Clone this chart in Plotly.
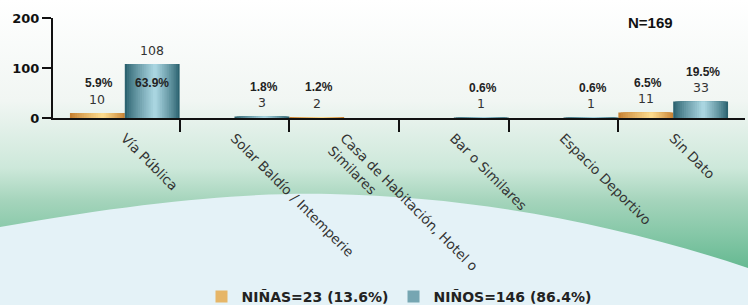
import base64
import plotly.graph_objects as go

# ---------------- data ----------------
categories = [
    "Vía Pública",
    "Solar Baldío / Intemperie",
    "Casa de Habitación, Hotel o<br>Similares",
    "Bar o Similares",
    "Espacio Deportivo",
    "Sin Dato",
]
ninas = [10, 0, 2, 0, 0, 11]
ninos = [108, 3, 0, 1, 1, 33]
pct_ninas = ["5.9%", None, "1.2%", None, None, "6.5%"]
pct_ninos = ["63.9%", "1.8%", None, "0.6%", "0.6%", "19.5%"]
legend_ninas = "NIÑAS=23 (13.6%)"
legend_ninos = "NIÑOS=146 (86.4%)"
total_label = "N=169"
y_ticks = [0, 100, 200]

# ---------------- geometry / style ----------------
W, H = 748, 305
ML, MR, MT, MB = 53, 3, 18, 187
PW, PH = W - ML - MR, H - MT - MB
pad = 17 / 110.0
x_range = [-0.5 - pad, len(categories) - 0.5 + pad]


def h2r(h):
    h = h.lstrip("#")
    return tuple(int(h[i:i + 2], 16) for i in (0, 2, 4))


def mix(a, b, t):
    a, b = h2r(a), h2r(b)
    return "rgb(%d,%d,%d)" % tuple(round(a[i] + (b[i] - a[i]) * t) for i in range(3))


fig = go.Figure()


def add_cylinder(values, bar_left, edge, peak, peak_pos, name, n=14):
    bw = 0.5
    for k in range(n):
        f = k / n
        L = peak_pos * f
        R = 1 - (1 - peak_pos) * f
        t = (k / (n - 1)) ** 0.85
        fig.add_trace(go.Bar(
            x=list(range(len(values))), y=values,
            width=bw * (R - L), offset=bar_left + bw * L,
            marker=dict(color=mix(edge, peak, t), line=dict(width=0)),
            name=name, legendgroup=name,
            showlegend=(k == n // 2), hoverinfo="skip",
        ))


add_cylinder(ninas, -0.5, "#c78233", "#fbda8c", 0.6, legend_ninas)
add_cylinder(ninos, 0.0, "#2c6370", "#a9d5e0", 0.55, legend_ninos)

# value and percentage labels
ann = []
cnt_font = dict(family="DejaVu Sans", size=12.5, color="#333333")
pct_font = dict(family="Liberation Sans", size=12, color="#222222", weight="bold")
for vals, pcts, off in ((ninas, pct_ninas, -0.25), (ninos, pct_ninos, 0.25)):
    for i, (v, p) in enumerate(zip(vals, pcts)):
        if v > 0:
            ann.append(dict(x=i + off, y=v, xref="x", yref="y", text=str(v),
                            showarrow=False, yshift=14, font=cnt_font,
                            xanchor="center", yanchor="middle"))
        if p:
            inside = v > 80
            ann.append(dict(x=i + off, y=v, xref="x", yref="y", text=p,
                            showarrow=False, yshift=-19 if inside else 30,
                            xshift=0 if inside else 2, font=pct_font,
                            xanchor="center", yanchor="middle"))

ann.append(dict(x=(650 - ML) / PW, y=(PH + MT - 22.5) / PH,
                xref="paper", yref="paper", text=total_label, showarrow=False,
                xanchor="center", yanchor="middle",
                font=dict(family="Liberation Sans", size=15, color="#111111", weight="bold")))

# background
svg = f'''<svg xmlns="http://www.w3.org/2000/svg" width="{W}" height="{H}" viewBox="0 0 {W} {H}" preserveAspectRatio="none">
<defs>
<linearGradient id="g" x1="0" y1="0" x2="0" y2="1">
<stop offset="0" stop-color="#ffffff"/>
<stop offset="0.33" stop-color="#f1f6f3"/>
<stop offset="0.55" stop-color="#cde8da"/>
<stop offset="0.66" stop-color="#a4d4bb"/>
<stop offset="0.78" stop-color="#82c6a5"/>
<stop offset="0.9" stop-color="#5fb68d"/>
<stop offset="1" stop-color="#52b085"/>
</linearGradient>
</defs>
<rect width="{W}" height="{H}" fill="url(#g)"/>
<path d="M0,227 C150,200 260,192 330,194 C480,197 620,225 748,268 L748,305 L0,305 Z" fill="#e4f2f7"/>
</svg>'''
src = "data:image/svg+xml;base64," + base64.b64encode(svg.encode()).decode()

fig.update_layout(
    width=W, height=H,
    margin=dict(l=ML, r=MR, t=MT, b=MB, autoexpand=False),
    barmode="overlay",
    paper_bgcolor="white",
    plot_bgcolor="rgba(0,0,0,0)",
    hovermode=False,
    annotations=ann,
    images=[dict(source=src, xref="paper", yref="paper",
                 x=-ML / PW, y=1 + MT / PH, sizex=W / PW, sizey=H / PH,
                 xanchor="left", yanchor="top", sizing="stretch", layer="below")],
    legend=dict(orientation="h", x=0.5, xanchor="center",
                y=-(297 - MT - PH) / PH, yanchor="middle",
                bgcolor="rgba(0,0,0,0)",
                font=dict(family="DejaVu Sans", size=14, color="#222222", weight="bold"),
                itemclick=False, itemdoubleclick=False),
    xaxis=dict(
        range=x_range, tickmode="array",
        tickvals=list(range(len(categories))), ticktext=categories,
        tickangle=45, ticks="outside", ticklen=5, tickcolor="rgba(0,0,0,0)",
        tickfont=dict(family="DejaVu Sans", size=13.5, color="#333333"),
        showline=True, linecolor="#111111", linewidth=2,
        showgrid=False, zeroline=False,
        minor=dict(tickmode="array",
                   tickvals=[i + 0.5 for i in range(len(categories) - 1)],
                   ticks="outside", ticklen=12, tickwidth=2, tickcolor="#111111",
                   showgrid=False),
        fixedrange=True,
    ),
    yaxis=dict(
        range=[y_ticks[0], y_ticks[-1]], tickmode="array", tickvals=y_ticks,
        ticks="outside", ticklen=9, tickwidth=2, tickcolor="#111111",
        tickfont=dict(family="DejaVu Sans", size=13, color="#111111", weight="bold"),
        showline=True, linecolor="#111111", linewidth=2,
        showgrid=False, zeroline=False, fixedrange=True,
    ),
)

fig.write_html("out.html", config={"displayModeBar": False, "staticPlot": True},
               post_script="document.body.style.margin='0';document.body.style.padding='0';")
